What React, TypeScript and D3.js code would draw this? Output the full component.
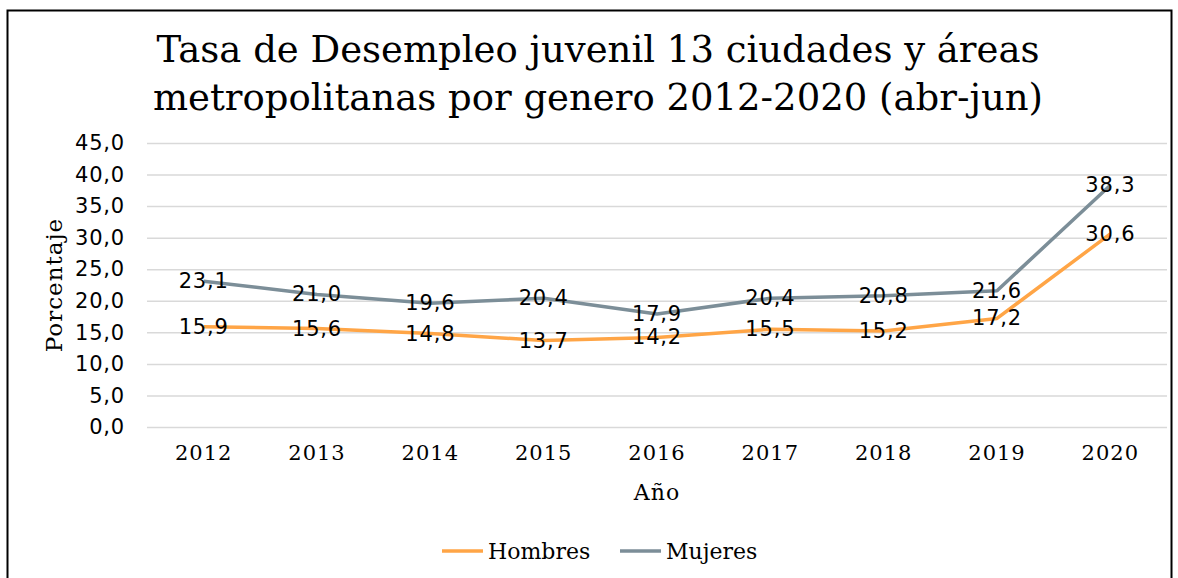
import React, { useRef, useEffect } from 'react';
import * as d3 from 'd3';

const years = ['2012', '2013', '2014', '2015', '2016', '2017', '2018', '2019', '2020'];
const hombres = [15.9, 15.6, 14.8, 13.7, 14.2, 15.5, 15.2, 17.2, 30.6];
const mujeres = [23.1, 21.0, 19.6, 20.4, 17.9, 20.4, 20.8, 21.6, 38.3];
const yTicks = [0, 5, 10, 15, 20, 25, 30, 35, 40, 45];
const seriesNames = ['Hombres', 'Mujeres'];
const seriesColors = ['#FFA546', '#7C8E98'];

const App = () => {
    const svgRef = useRef<SVGSVGElement>(null);

    useEffect(() => {
        const width = 1178;
        const height = 578;
        const marginLeft = 147;
        const marginRight = 11;
        const yTop = 143;
        const yBottom = 427;
        const serif = '"DejaVu Serif", serif';
        const sans = '"DejaVu Sans", sans-serif';

        const svg = d3.select(svgRef.current)
            .attr('width', width)
            .attr('height', height)
            .attr('viewBox', `0 0 ${width} ${height}`);

        svg.selectAll('*').remove();

        svg.append('rect')
            .attr('width', width).attr('height', height).attr('fill', '#fff');

        // chart frame
        svg.append('rect')
            .attr('x', 7.5).attr('y', 10.5)
            .attr('width', 1164).attr('height', 600)
            .attr('fill', 'none').attr('stroke', '#000').attr('stroke-width', 2);

        const x = d3.scaleBand()
            .domain(years)
            .range([marginLeft, width - marginRight]);

        const y = d3.scaleLinear()
            .domain([0, 45])
            .range([yBottom, yTop]);

        // title
        const title = svg.append('text')
            .attr('text-anchor', 'middle')
            .attr('font-family', serif)
            .attr('font-size', 37)
            .attr('fill', '#000');
        title.append('tspan').attr('x', 598).attr('y', 62)
            .text('Tasa de Desempleo juvenil 13 ciudades y áreas');
        title.append('tspan').attr('x', 598).attr('y', 110)
            .text('metropolitanas por genero 2012-2020  (abr-jun)');

        // y axis with grid
        const fmt = (v: number) => v.toFixed(1).replace('.', ',');
        svg.append('g')
            .attr('transform', `translate(${marginLeft},0)`)
            .call(d3.axisLeft(y).tickValues(yTicks).tickFormat(d => fmt(+d)).tickSize(0).tickPadding(22))
            .call(g => g.select('.domain').remove())
            .call(g => g.selectAll('.tick text')
                .attr('font-family', sans).attr('font-size', 21)
                .attr('letter-spacing', 0.8).attr('fill', '#000'))
            .call(g => g.selectAll('.tick').append('line')
                .attr('x2', width - marginLeft - marginRight)
                .attr('stroke', '#d9d9d9').attr('stroke-width', 1.5));

        // x axis
        svg.append('g')
            .attr('transform', `translate(0,${yBottom})`)
            .call(d3.axisBottom(x).tickSize(0).tickPadding(18))
            .call(g => g.select('.domain').remove())
            .call(g => g.selectAll('.tick text')
                .attr('font-family', serif).attr('font-size', 21)
                .attr('letter-spacing', 1).attr('fill', '#000'));

        svg.append('text')
            .attr('x', 657).attr('y', 500)
            .attr('text-anchor', 'middle')
            .attr('font-family', serif).attr('font-size', 22)
            .attr('letter-spacing', 1)
            .text('Año');

        svg.append('text')
            .attr('transform', 'translate(62,285) rotate(-90)')
            .attr('text-anchor', 'middle')
            .attr('font-family', serif).attr('font-size', 23)
            .attr('letter-spacing', 1)
            .text('Porcentaje');

        const line = d3.line<number>()
            .x((_, i) => x(years[i])! + x.bandwidth() / 2)
            .y(d => y(d));

        const allSeries = [hombres, mujeres];
        allSeries.forEach((vals, si) => {
            svg.append('path')
                .datum(vals)
                .attr('fill', 'none')
                .attr('stroke', seriesColors[si])
                .attr('stroke-width', 3.5)
                .attr('stroke-linejoin', 'round')
                .attr('d', line);
        });

        allSeries.forEach(vals => {
            svg.append('g').selectAll('text')
                .data(vals)
                .join('text')
                .attr('x', (_, i) => x(years[i])! + x.bandwidth() / 2)
                .attr('y', d => y(d) + 7)
                .attr('text-anchor', 'middle')
                .attr('font-family', sans).attr('font-size', 21)
                .attr('letter-spacing', 0.8).attr('fill', '#000')
                .text(d => fmt(d));
        });

        // legend
        const legendX = [442, 620];
        seriesNames.forEach((name, i) => {
            const g = svg.append('g').attr('transform', `translate(${legendX[i]},551)`);
            g.append('line')
                .attr('x1', 0).attr('x2', 41)
                .attr('stroke', seriesColors[i]).attr('stroke-width', 3.5);
            g.append('text')
                .attr('x', 46).attr('y', 8)
                .attr('font-family', serif).attr('font-size', 22)
                .text(name);
        });
    }, []);

    return (
        <svg ref={svgRef} style={{ display: 'block', position: 'absolute', left: 0, top: 0 }}></svg>
    );
};

export default App;
